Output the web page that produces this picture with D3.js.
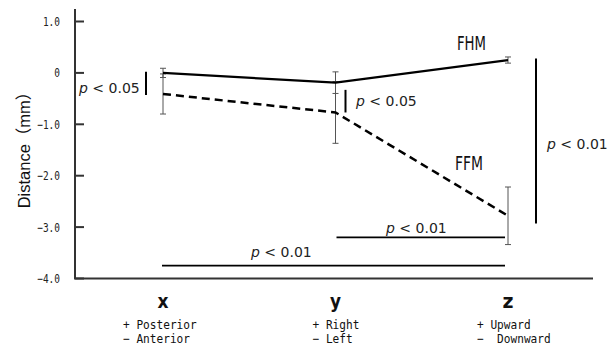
<!DOCTYPE html>
<html><head><meta charset="utf-8">
<script src="https://cdn.jsdelivr.net/npm/d3@7"></script>
<style>body{margin:0;background:#fff}svg{display:block}</style>
</head><body><svg id="c" width="611" height="346"></svg>
<script>
const categories = ["x", "y", "z"];
const subLabels = [["+ Posterior", "− Anterior"], ["+ Right", "− Left"], ["+ Upward", "−  Downward"]];
const fhm = [0.0, -0.19, 0.25];
const fhmErr = [0.09, 0.21, 0.06];
const ffm = [-0.41, -0.77, -2.78];
const ffmErr = [0.39, 0.6, 0.56];
const yTicks = [1, 0, -1, -2, -3, -4];
const yTickLabels = ["1.0", "0", "−1.0", "−2.0", "−3.0", "−4.0"];
const seriesNames = ["FHM", "FFM"];
const sigLabels = ["p < 0.05", "p < 0.05", "p < 0.01", "p < 0.01", "p < 0.01"];

const svg = d3.select("#c");
const x = d3.scalePoint().domain(categories).range([163, 508]);
const y = d3.scaleLinear().domain([-4, 1]).range([278.5, 21.5]);
const axisColor = "#333";

// y axis
svg.append("line").attr("x1", 75).attr("x2", 75).attr("y1", 9).attr("y2", y(-4))
  .attr("stroke", axisColor).attr("stroke-width", 2);
svg.append("line").attr("x1", 74).attr("x2", 593).attr("y1", y(-4)).attr("y2", y(-4))
  .attr("stroke", axisColor).attr("stroke-width", 2);
yTicks.forEach((t, i) => {
  svg.append("line").attr("x1", 75).attr("x2", 84).attr("y1", y(t)).attr("y2", y(t))
    .attr("stroke", axisColor).attr("stroke-width", 2);
  const lab = yTickLabels[i];
  svg.append("text").attr("x", 60).attr("y", y(t) + 4.5).attr("text-anchor", "end")
    .attr("font-family", "DejaVu Sans Mono").attr("font-size", 12.5).attr("fill", "#222")
    .attr("textLength", lab.length * 5.7).attr("lengthAdjust", "spacingAndGlyphs").text(lab);
});
svg.append("text").attr("transform", "translate(30,146) rotate(-90)").attr("text-anchor", "middle")
  .attr("font-family", "Liberation Sans, Noto Sans CJK JP").attr("font-size", 16.5).attr("fill", "#111")
  .text("Distance（mm）");

// categories
const subOff = [-40, -23, -31];
categories.forEach((c, i) => {
  svg.append("text").attr("x", x(c)).attr("y", 308).attr("text-anchor", "middle")
    .attr("font-family", "DejaVu Sans").attr("font-weight", "bold").attr("font-size", 19).attr("fill", "#111")
    .attr("textLength", 11).attr("lengthAdjust", "spacingAndGlyphs").text(c);
  subLabels[i].forEach((s, j) => {
    svg.append("text").attr("x", x(c) + subOff[i]).attr("y", 328.5 + j * 14.5)
      .attr("font-family", "DejaVu Sans Mono").attr("font-size", 12.5).attr("fill", "#111")
      .style("white-space", "pre")
      .attr("textLength", s.length * 6.7).attr("lengthAdjust", "spacingAndGlyphs").text(s);
  });
});

// error bars
function errBars(vals, errs, cap) {
  vals.forEach((v, i) => {
    const cx = x(categories[i]);
    const g = svg.append("g").attr("stroke", "#555").attr("stroke-width", 1);
    g.append("line").attr("x1", cx).attr("x2", cx).attr("y1", y(v + errs[i])).attr("y2", y(v - errs[i]));
    [v + errs[i], v - errs[i]].forEach(e => g.append("line").attr("x1", cx - cap).attr("x2", cx + cap).attr("y1", y(e)).attr("y2", y(e)));
  });
}
errBars(fhm, fhmErr, 3);
errBars(ffm, ffmErr, 3);

const line = d3.line().x((d, i) => x(categories[i])).y(d => y(d));
svg.append("path").attr("d", line(fhm)).attr("fill", "none").attr("stroke", "#000").attr("stroke-width", 2.2);
svg.append("path").attr("d", line(ffm)).attr("fill", "none").attr("stroke", "#000").attr("stroke-width", 2.5)
  .attr("stroke-dasharray", "8,5");

// series labels
svg.append("text").attr("x", 471.5).attr("y", 50).attr("text-anchor", "middle")
  .attr("font-family", "DejaVu Sans").attr("font-size", 20).attr("fill", "#111")
  .attr("textLength", 29).attr("lengthAdjust", "spacingAndGlyphs").text(seriesNames[0]);
svg.append("text").attr("x", 469).attr("y", 170).attr("text-anchor", "middle")
  .attr("font-family", "DejaVu Sans").attr("font-size", 20).attr("fill", "#111")
  .attr("textLength", 28).attr("lengthAdjust", "spacingAndGlyphs").text(seriesNames[1]);

// significance markers
function sigText(tx, ty, label) {
  const t = svg.append("text").attr("x", tx).attr("y", ty)
    .attr("font-family", "DejaVu Sans").attr("font-size", 14).attr("fill", "#222");
  t.append("tspan").attr("font-style", "italic").text(label.slice(0, 1));
  t.append("tspan").text(label.slice(1));
}
function vbar(px, v1, v2) {
  svg.append("line").attr("x1", px).attr("x2", px).attr("y1", y(v1)).attr("y2", y(v2))
    .attr("stroke", "#000").attr("stroke-width", 2);
}
function hbar(c1, c2, v, x1adj) {
  svg.append("line").attr("x1", x(c1) + x1adj).attr("x2", x(c2) - 3).attr("y1", y(v)).attr("y2", y(v))
    .attr("stroke", "#000").attr("stroke-width", 1.6);
}
vbar(x("x") - 17, 0.02, -0.43);
sigText(79, 92.5, sigLabels[0]);
vbar(x("y") + 10, -0.33, -0.77);
sigText(356, 106, sigLabels[1]);
vbar(x("z") + 28, 0.28, -2.93);
sigText(547, 148.5, sigLabels[2]);
hbar("y", "z", -3.2, 1);
sigText(386, 232.5, sigLabels[3]);
hbar("x", "z", -3.75, -1);
sigText(251, 256.5, sigLabels[4]);
</script></body></html>
